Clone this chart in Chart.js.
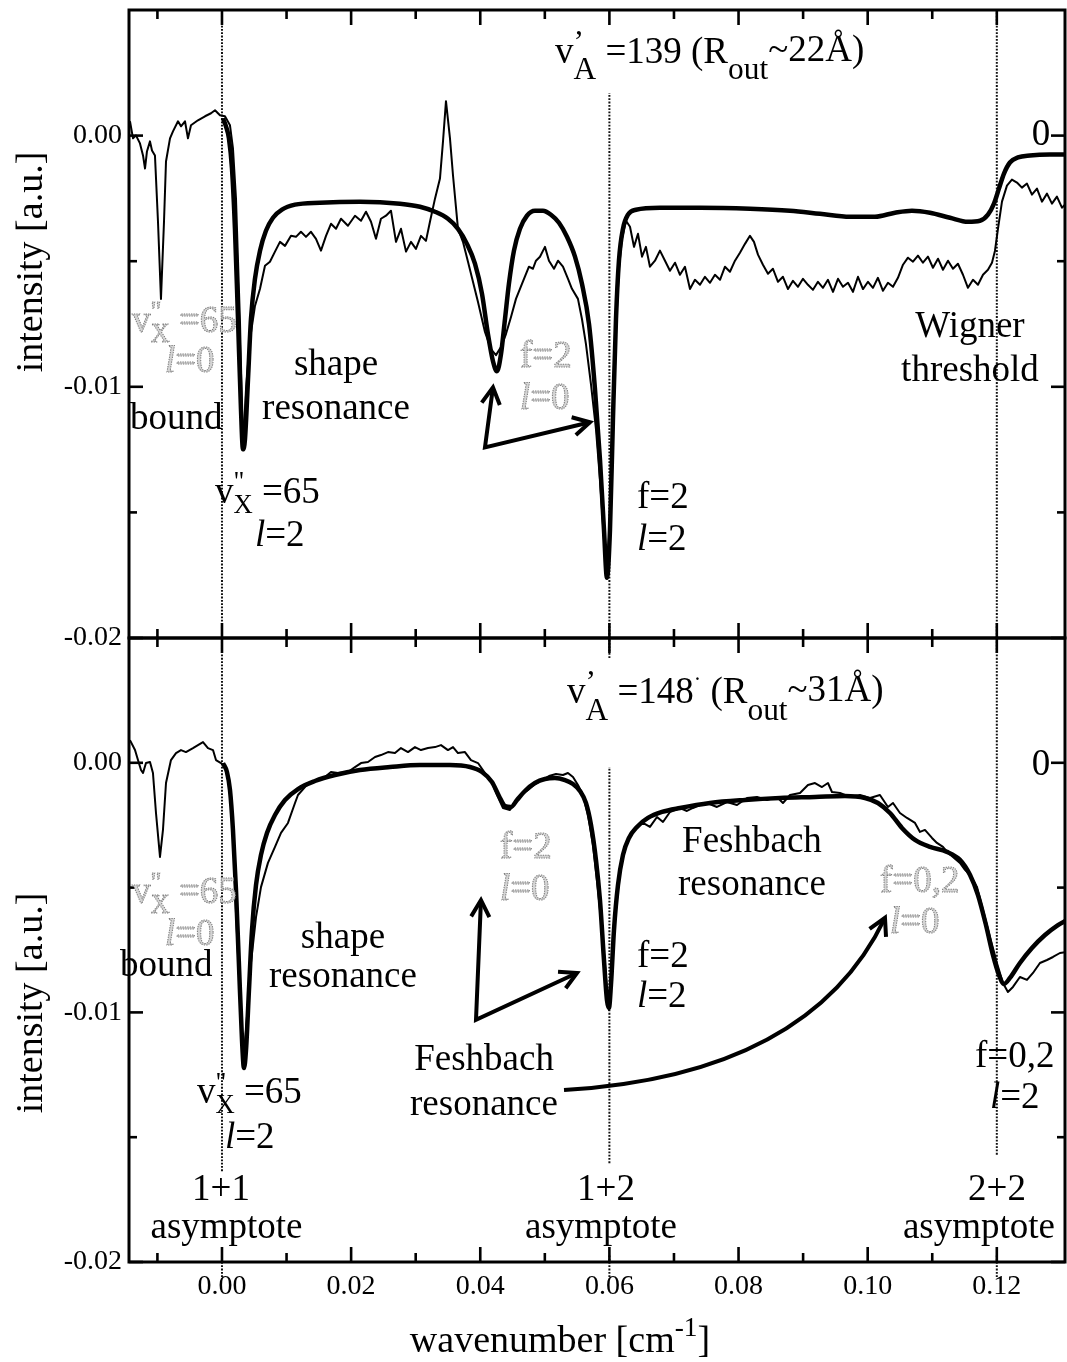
<!DOCTYPE html>
<html>
<head>
<meta charset="utf-8">
<script src="https://cdn.jsdelivr.net/npm/chart.js@4.4.1/dist/chart.umd.min.js"></script>
<style>
  html, body { margin: 0; padding: 0; background: #fff; }
  #wrap { position: relative; width: 1067px; height: 1362px; overflow: hidden; }
  #wrap canvas { position: absolute; left: 0; top: 0; }
</style>
</head>
<body>
<div id="wrap">
  <canvas id="upper" width="1067" height="1362"></canvas>
  <canvas id="lower" width="1067" height="1362"></canvas>
</div>
<script>
// ---- axes ----
const xRange = [-0.0144, 0.13056];          // wavenumber [cm^-1]
const yRange = [-0.02, 0.005];              // intensity [a.u.]
const xTickValues = [0, 0.02, 0.04, 0.06, 0.08, 0.10, 0.12];
const xMinorTicks = [-0.01, 0.01, 0.03, 0.05, 0.07, 0.09, 0.11];
const yTickValues = [-0.02, -0.01, 0];
const yMinorTicks = [-0.015, -0.005];
const asymptoteLabels = ['1+1', '1+2', '2+2'];

// ---- v'A = 139 : measured spectrum (thin) and model (thick), [wavenumber, intensity] ----
const upperMeasured = [[-0.01425,0.00057],[-0.01378,-0.00011],[-0.01332,0.00001],[-0.01270,-0.00031],[-0.01223,-0.00079],[-0.01192,-0.00131],[-0.01162,-0.00063],[-0.01115,-0.00023],[-0.01084,-0.00059],[-0.01038,-0.00079],[-0.00991,-0.00343],[-0.00945,-0.00650],[-0.00898,-0.00343],[-0.00867,-0.00103],[-0.00805,-0.00011],[-0.00759,0.00017],[-0.00681,0.00057],[-0.00635,0.00037],[-0.00573,0.00057],[-0.00527,-0.00011],[-0.00480,0.00041],[-0.00372,0.00061],[-0.00263,0.00077],[-0.00170,0.00089],[-0.00108,0.00101],[-0.00031,0.00081],[0.00046,0.00077],[0.00124,0.00041],[0.00170,-0.00051],[0.00217,-0.00251],[0.00279,-0.00742],[0.00325,-0.01249],[0.00372,-0.01010],[0.00434,-0.00810],[0.00511,-0.00678],[0.00589,-0.00610],[0.00666,-0.00518],[0.00743,-0.00502],[0.00821,-0.00462],[0.00898,-0.00423],[0.00976,-0.00439],[0.01069,-0.00399],[0.01146,-0.00403],[0.01223,-0.00383],[0.01301,-0.00403],[0.01378,-0.00383],[0.01456,-0.00411],[0.01533,-0.00458],[0.01611,-0.00399],[0.01688,-0.00351],[0.01766,-0.00371],[0.01843,-0.00331],[0.01951,-0.00359],[0.02060,-0.00319],[0.02153,-0.00339],[0.02230,-0.00303],[0.02308,-0.00343],[0.02385,-0.00411],[0.02462,-0.00331],[0.02540,-0.00319],[0.02617,-0.00299],[0.02695,-0.00423],[0.02772,-0.00371],[0.02850,-0.00462],[0.02927,-0.00423],[0.03004,-0.00451],[0.03082,-0.00399],[0.03159,-0.00419],[0.03221,-0.00343],[0.03299,-0.00251],[0.03376,-0.00171],[0.03423,-0.00023],[0.03469,0.00137],[0.03531,-0.00011],[0.03578,-0.00159],[0.03655,-0.00371],[0.03732,-0.00423],[0.03810,-0.00502],[0.03887,-0.00582],[0.03965,-0.00662],[0.04073,-0.00782],[0.04166,-0.00850],[0.04243,-0.00874],[0.04321,-0.00842],[0.04398,-0.00790],[0.04476,-0.00722],[0.04553,-0.00650],[0.04646,-0.00590],[0.04754,-0.00522],[0.04816,-0.00530],[0.04863,-0.00498],[0.04925,-0.00482],[0.05002,-0.00443],[0.05064,-0.00498],[0.05142,-0.00530],[0.05204,-0.00498],[0.05281,-0.00522],[0.05359,-0.00570],[0.05420,-0.00610],[0.05513,-0.00650],[0.05575,-0.00730],[0.05637,-0.00830],[0.05715,-0.00990],[0.05792,-0.01169],[0.05854,-0.01369],[0.05916,-0.01609],[0.05962,-0.01748],[0.06009,-0.01529],[0.06055,-0.01129],[0.06102,-0.00770],[0.06148,-0.00530],[0.06195,-0.00411],[0.06257,-0.00339],[0.06319,-0.00363],[0.06381,-0.00443],[0.06443,-0.00391],[0.06505,-0.00482],[0.06566,-0.00443],[0.06628,-0.00522],[0.06706,-0.00498],[0.06783,-0.00458],[0.06861,-0.00498],[0.06938,-0.00538],[0.07016,-0.00506],[0.07093,-0.00554],[0.07170,-0.00522],[0.07248,-0.00611],[0.07325,-0.00574],[0.07403,-0.00594],[0.07480,-0.00562],[0.07558,-0.00586],[0.07635,-0.00554],[0.07713,-0.00574],[0.07790,-0.00522],[0.07867,-0.00542],[0.07945,-0.00498],[0.08022,-0.00466],[0.08100,-0.00431],[0.08177,-0.00399],[0.08239,-0.00423],[0.08301,-0.00474],[0.08378,-0.00514],[0.08456,-0.00550],[0.08533,-0.00530],[0.08611,-0.00582],[0.08688,-0.00562],[0.08766,-0.00611],[0.08843,-0.00578],[0.08921,-0.00602],[0.08998,-0.00570],[0.09075,-0.00594],[0.09153,-0.00614],[0.09230,-0.00582],[0.09308,-0.00606],[0.09385,-0.00574],[0.09463,-0.00622],[0.09540,-0.00570],[0.09617,-0.00602],[0.09695,-0.00586],[0.09772,-0.00622],[0.09850,-0.00562],[0.09927,-0.00611],[0.10005,-0.00582],[0.10082,-0.00606],[0.10159,-0.00566],[0.10237,-0.00618],[0.10314,-0.00586],[0.10392,-0.00602],[0.10469,-0.00566],[0.10547,-0.00514],[0.10624,-0.00486],[0.10702,-0.00502],[0.10779,-0.00478],[0.10856,-0.00506],[0.10934,-0.00482],[0.11011,-0.00526],[0.11089,-0.00490],[0.11166,-0.00534],[0.11244,-0.00498],[0.11321,-0.00530],[0.11398,-0.00510],[0.11476,-0.00554],[0.11553,-0.00606],[0.11631,-0.00574],[0.11708,-0.00594],[0.11786,-0.00554],[0.11863,-0.00534],[0.11925,-0.00506],[0.11971,-0.00459],[0.12018,-0.00371],[0.12080,-0.00263],[0.12157,-0.00199],[0.12234,-0.00175],[0.12312,-0.00187],[0.12389,-0.00207],[0.12467,-0.00191],[0.12544,-0.00235],[0.12622,-0.00211],[0.12699,-0.00263],[0.12777,-0.00231],[0.12854,-0.00271],[0.12931,-0.00243],[0.13009,-0.00287],[0.13086,-0.00267]];

const upperModel = [[0.00015,0.00069],[0.00062,0.00037],[0.00108,-0.00011],[0.00155,-0.00131],[0.00201,-0.00371],[0.00248,-0.00730],[0.00294,-0.01089],[0.00325,-0.01249],[0.00356,-0.01209],[0.00403,-0.00970],[0.00449,-0.00730],[0.00511,-0.00570],[0.00589,-0.00458],[0.00681,-0.00379],[0.00790,-0.00327],[0.00929,-0.00295],[0.01131,-0.00275],[0.01518,-0.00267],[0.02137,-0.00263],[0.02757,-0.00271],[0.03066,-0.00283],[0.03299,-0.00303],[0.03500,-0.00331],[0.03655,-0.00371],[0.03794,-0.00431],[0.03918,-0.00510],[0.04027,-0.00630],[0.04119,-0.00790],[0.04197,-0.00898],[0.04258,-0.00938],[0.04321,-0.00870],[0.04383,-0.00730],[0.04444,-0.00590],[0.04522,-0.00458],[0.04615,-0.00371],[0.04723,-0.00319],[0.04847,-0.00299],[0.04971,-0.00299],[0.05095,-0.00315],[0.05219,-0.00347],[0.05343,-0.00403],[0.05467,-0.00482],[0.05575,-0.00590],[0.05684,-0.00750],[0.05777,-0.01010],[0.05854,-0.01289],[0.05916,-0.01569],[0.05962,-0.01760],[0.06009,-0.01569],[0.06055,-0.01129],[0.06102,-0.00730],[0.06148,-0.00498],[0.06210,-0.00371],[0.06288,-0.00315],[0.06412,-0.00295],[0.06783,-0.00287],[0.07403,-0.00287],[0.08177,-0.00291],[0.08797,-0.00299],[0.09261,-0.00311],[0.09726,-0.00323],[0.10113,-0.00323],[0.10423,-0.00307],[0.10686,-0.00299],[0.10965,-0.00307],[0.11275,-0.00327],[0.11553,-0.00343],[0.11739,-0.00339],[0.11863,-0.00315],[0.11956,-0.00271],[0.12033,-0.00211],[0.12111,-0.00151],[0.12203,-0.00107],[0.12327,-0.00087],[0.12513,-0.00079],[0.12823,-0.00075],[0.13086,-0.00075]];

// ---- v'A = 148 : measured spectrum (thin) and model (thick) ----
const lowerMeasured = [[-0.01425,0.00091],[-0.01347,0.00051],[-0.01301,0.00011],[-0.01254,-0.00029],[-0.01223,-0.00041],[-0.01177,-0.00001],[-0.01115,0.00003],[-0.01069,-0.00041],[-0.01022,-0.00201],[-0.00960,-0.00377],[-0.00914,-0.00269],[-0.00867,-0.00081],[-0.00790,0.00011],[-0.00712,0.00039],[-0.00635,0.00051],[-0.00558,0.00043],[-0.00449,0.00059],[-0.00372,0.00071],[-0.00294,0.00083],[-0.00217,0.00059],[-0.00139,0.00051],[-0.00093,0.00011],[-0.00015,-0.00001],[0.00062,-0.00021],[0.00124,-0.00109],[0.00170,-0.00269],[0.00217,-0.00602],[0.00279,-0.00938],[0.00325,-0.01223],[0.00372,-0.01070],[0.00449,-0.00802],[0.00527,-0.00618],[0.00604,-0.00498],[0.00712,-0.00401],[0.00821,-0.00337],[0.00914,-0.00281],[0.01022,-0.00241],[0.01131,-0.00161],[0.01177,-0.00129],[0.01285,-0.00097],[0.01378,-0.00077],[0.01487,-0.00069],[0.01595,-0.00057],[0.01688,-0.00037],[0.01796,-0.00041],[0.01951,-0.00037],[0.02060,-0.00017],[0.02153,-0.00001],[0.02261,0.00003],[0.02370,0.00023],[0.02462,0.00031],[0.02571,0.00043],[0.02679,0.00039],[0.02772,0.00059],[0.02881,0.00043],[0.02989,0.00063],[0.03082,0.00051],[0.03190,0.00059],[0.03299,0.00063],[0.03392,0.00071],[0.03500,0.00051],[0.03578,0.00063],[0.03655,0.00039],[0.03763,0.00043],[0.03856,0.00011],[0.03965,-0.00001],[0.04073,-0.00041],[0.04166,-0.00069],[0.04274,-0.00137],[0.04352,-0.00181],[0.04460,-0.00189],[0.04553,-0.00157],[0.04631,-0.00129],[0.04739,-0.00109],[0.04847,-0.00085],[0.04956,-0.00069],[0.05064,-0.00053],[0.05173,-0.00045],[0.05281,-0.00049],[0.05358,-0.00041],[0.05436,-0.00057],[0.05513,-0.00089],[0.05591,-0.00129],[0.05668,-0.00209],[0.05745,-0.00329],[0.05823,-0.00510],[0.05900,-0.00710],[0.05962,-0.00910],[0.05993,-0.00990],[0.06040,-0.00830],[0.06086,-0.00630],[0.06148,-0.00470],[0.06210,-0.00369],[0.06272,-0.00321],[0.06350,-0.00277],[0.06427,-0.00257],[0.06520,-0.00241],[0.06628,-0.00257],[0.06737,-0.00217],[0.06830,-0.00237],[0.06938,-0.00197],[0.07093,-0.00181],[0.07201,-0.00193],[0.07294,-0.00181],[0.07403,-0.00169],[0.07511,-0.00161],[0.07666,-0.00177],[0.07821,-0.00157],[0.07976,-0.00169],[0.08131,-0.00141],[0.08286,-0.00137],[0.08440,-0.00149],[0.08595,-0.00137],[0.08688,-0.00161],[0.08797,-0.00129],[0.08952,-0.00121],[0.09075,-0.00089],[0.09184,-0.00081],[0.09292,-0.00097],[0.09385,-0.00081],[0.09447,-0.00117],[0.09571,-0.00121],[0.09726,-0.00137],[0.09881,-0.00129],[0.10036,-0.00141],[0.10190,-0.00129],[0.10314,-0.00177],[0.10392,-0.00161],[0.10500,-0.00201],[0.10609,-0.00221],[0.10733,-0.00241],[0.10810,-0.00277],[0.10887,-0.00269],[0.10996,-0.00301],[0.11073,-0.00321],[0.11166,-0.00337],[0.11244,-0.00361],[0.11321,-0.00377],[0.11429,-0.00401],[0.11507,-0.00429],[0.11584,-0.00449],[0.11693,-0.00498],[0.11786,-0.00590],[0.11894,-0.00698],[0.12002,-0.00802],[0.12095,-0.00882],[0.12172,-0.00918],[0.12250,-0.00898],[0.12358,-0.00858],[0.12467,-0.00870],[0.12560,-0.00842],[0.12668,-0.00802],[0.12777,-0.00790],[0.12870,-0.00778],[0.12978,-0.00762],[0.13086,-0.00758]];

const lowerModel = [[0.00015,-0.00001],[0.00077,-0.00037],[0.00124,-0.00109],[0.00170,-0.00269],[0.00217,-0.00510],[0.00263,-0.00810],[0.00310,-0.01110],[0.00341,-0.01223],[0.00372,-0.01151],[0.00418,-0.00910],[0.00465,-0.00670],[0.00527,-0.00490],[0.00604,-0.00369],[0.00697,-0.00281],[0.00821,-0.00209],[0.00976,-0.00149],[0.01177,-0.00105],[0.01440,-0.00073],[0.01750,-0.00049],[0.02137,-0.00029],[0.02602,-0.00017],[0.03066,-0.00009],[0.03531,-0.00009],[0.03841,-0.00017],[0.04027,-0.00037],[0.04181,-0.00077],[0.04290,-0.00133],[0.04383,-0.00173],[0.04476,-0.00177],[0.04569,-0.00149],[0.04692,-0.00113],[0.04847,-0.00081],[0.05002,-0.00065],[0.05157,-0.00061],[0.05312,-0.00069],[0.05436,-0.00085],[0.05544,-0.00113],[0.05637,-0.00161],[0.05715,-0.00249],[0.05792,-0.00389],[0.05854,-0.00550],[0.05916,-0.00790],[0.05962,-0.00950],[0.05993,-0.00982],[0.06024,-0.00890],[0.06071,-0.00670],[0.06133,-0.00490],[0.06210,-0.00369],[0.06303,-0.00301],[0.06427,-0.00257],[0.06597,-0.00221],[0.06814,-0.00197],[0.07093,-0.00181],[0.07558,-0.00161],[0.08100,-0.00149],[0.08642,-0.00141],[0.09184,-0.00137],[0.09648,-0.00133],[0.09958,-0.00141],[0.10159,-0.00161],[0.10345,-0.00201],[0.10531,-0.00261],[0.10733,-0.00309],[0.10965,-0.00337],[0.11228,-0.00357],[0.11429,-0.00389],[0.11584,-0.00449],[0.11708,-0.00530],[0.11832,-0.00650],[0.11940,-0.00770],[0.12033,-0.00850],[0.12111,-0.00886],[0.12203,-0.00862],[0.12358,-0.00802],[0.12544,-0.00742],[0.12746,-0.00690],[0.12947,-0.00650],[0.13086,-0.00630]];

// ---- text helpers ----
const SERIF = '"Liberation Serif", "Times New Roman", Times, serif';
const TXT = 37;

// runs: pieces of a label; s = size factor, dy = baseline shift (em), it = italic,
// back = start at the same x as the previous piece (stacked sub/superscript)
const VX65 = [{t: 'v'}, {t: '"', s: 0.72, dy: -0.33}, {t: 'X', s: 0.72, dy: 0.28, back: true}, {t: ' =65'}];
const L0 = [{t: 'l', it: true}, {t: '=0'}];
const L2 = [{t: 'l', it: true}, {t: '=2'}];
const titleUpper = [{t: 'v'}, {t: '\u2019', s: 0.85, dy: -0.3}, {t: 'A', s: 0.85, dy: 0.45, back: true},
  {t: ' =139 (R'}, {t: 'out', s: 0.85, dy: 0.45}, {t: '~22\u00C5)', dy: -0.06}];
const titleLower = [{t: 'v'}, {t: '\u2019', s: 0.85, dy: -0.3}, {t: 'A', s: 0.85, dy: 0.45, back: true},
  {t: ' =148'}, {t: '\u00B7', s: 0.6, dy: -0.45}, {t: ' (R'}, {t: 'out', s: 0.85, dy: 0.45}, {t: '~31\u00C5)', dy: -0.06}];
const T = s => [{t: s}];

const upperNotes = [
  {x: 0.05157, y: 0.00290, runs: titleUpper},
  {x: 0.12684, y: -0.00037, runs: T('0'), align: 'center'},
  {x: -0.01394, y: -0.00782, runs: VX65, grey: true},
  {x: -0.00883, y: -0.00942, runs: L0, grey: true},
  {x: -0.01425, y: -0.01169, runs: T('bound')},
  {x: 0.01766, y: -0.00954, runs: T('shape'), align: 'center'},
  {x: 0.01766, y: -0.01129, runs: T('resonance'), align: 'center'},
  {x: -0.00108, y: -0.01461, runs: VX65},
  {x: 0.00511, y: -0.01632, runs: L2},
  {x: 0.04615, y: -0.00922, runs: T('f=2'), grey: true},
  {x: 0.04615, y: -0.01089, runs: L0, grey: true},
  {x: 0.06427, y: -0.01482, runs: T('f=2')},
  {x: 0.06427, y: -0.01650, runs: L2},
  {x: 0.11584, y: -0.00802, runs: T('Wigner'), align: 'center'},
  {x: 0.11584, y: -0.00978, runs: T('threshold'), align: 'center'}
];

const lowerNotes = [
  {x: 0.05343, y: 0.00240, runs: titleLower},
  {x: 0.12684, y: -0.00049, runs: T('0'), align: 'center'},
  {x: -0.01394, y: -0.00562, runs: VX65, grey: true},
  {x: -0.00883, y: -0.00730, runs: L0, grey: true},
  {x: -0.01580, y: -0.00854, runs: T('bound')},
  {x: 0.01874, y: -0.00742, runs: T('shape'), align: 'center'},
  {x: 0.01874, y: -0.00898, runs: T('resonance'), align: 'center'},
  {x: 0.04305, y: -0.00382, runs: T('f=2'), grey: true},
  {x: 0.04305, y: -0.00550, runs: L0, grey: true},
  {x: 0.06427, y: -0.00817, runs: T('f=2')},
  {x: 0.06427, y: -0.00977, runs: L2},
  {x: 0.08208, y: -0.00357, runs: T('Feshbach'), align: 'center'},
  {x: 0.08208, y: -0.00529, runs: T('resonance'), align: 'center'},
  {x: 0.10190, y: -0.00517, runs: T('f=0,2'), grey: true},
  {x: 0.10345, y: -0.00682, runs: L0, grey: true},
  {x: 0.04058, y: -0.01231, runs: T('Feshbach'), align: 'center'},
  {x: 0.04058, y: -0.01410, runs: T('resonance'), align: 'center'},
  {x: -0.00387, y: -0.01363, runs: VX65},
  {x: 0.00046, y: -0.01543, runs: L2},
  {x: 0.11662, y: -0.01220, runs: T('f=0,2')},
  {x: 0.11894, y: -0.01385, runs: L2},
  {x: -0.00015, y: -0.01752, runs: T(asymptoteLabels[0]), align: 'center'},
  {x: 0.00070, y: -0.01904, runs: T('asymptote'), align: 'center'},
  {x: 0.05947, y: -0.01752, runs: T(asymptoteLabels[1]), align: 'center'},
  {x: 0.05870, y: -0.01904, runs: T('asymptote'), align: 'center'},
  {x: 0.12002, y: -0.01752, runs: T(asymptoteLabels[2]), align: 'center'},
  {x: 0.11724, y: -0.01904, runs: T('asymptote'), align: 'center'}
];

// arrows: polyline with heads at both ends, or a quadratic curve with one head
const upperArrows = [{poly: [[0.04197, -0.01002], [0.04073, -0.01241], [0.05699, -0.01141]]}];
const lowerArrows = [
  {poly: [[0.04011, -0.00550], [0.03934, -0.01030], [0.05498, -0.00842]]},
  {curve: [[0.05297, -0.01311], [0.09106, -0.01251], [0.10268, -0.00621]]}
];

// dotted asymptote markers: [wavenumber, from, to]
const upperGuides = [[0, -0.02, 0.005], [0.06, -0.02, 0.0017], [0.12, -0.02, 0.005]];
const lowerGuides = [[0, -0.01636, 0.005], [0.06, -0.01604, -0.00017], [0.06, 0.0042, 0.005], [0.12, -0.0157, 0.005],
  [0, -0.0206, -0.0197], [0.06, -0.0206, -0.0197], [0.12, -0.0206, -0.0197]];

function drawRuns(ctx, x, y, runs, size, align, grey) {
  let cursor = 0, prevStart = 0;
  const placed = [];
  for (const r of runs) {
    const sz = size * (r.s || 1);
    const font = (r.it ? 'italic ' : '') + sz + 'px ' + SERIF;
    ctx.font = font;
    const w = ctx.measureText(r.t).width;
    const start = r.back ? prevStart : cursor;
    placed.push({r, font, start});
    prevStart = start;
    cursor = Math.max(cursor, start + w);
  }
  const x0 = align === 'center' ? x - cursor / 2 : x;
  ctx.textAlign = 'left';
  ctx.textBaseline = 'alphabetic';
  for (const p of placed) {
    ctx.font = p.font;
    const px = x0 + p.start, py = y + (p.r.dy || 0) * size;
    if (grey) {
      ctx.fillStyle = '#d4d4d4';
      ctx.fillText(p.r.t, px, py);
      ctx.strokeStyle = '#7c7c7c';
      ctx.lineWidth = 1;
      ctx.setLineDash([1.3, 1.1]);
      ctx.strokeText(p.r.t, px, py);
      ctx.setLineDash([]);
    } else {
      ctx.fillStyle = '#000';
      ctx.fillText(p.r.t, px, py);
    }
  }
}

function arrowHead(ctx, tx, ty, fx, fy) {
  const a = Math.atan2(ty - fy, tx - fx), len = 19, spread = 0.5;
  ctx.beginPath();
  ctx.moveTo(tx - len * Math.cos(a - spread), ty - len * Math.sin(a - spread));
  ctx.lineTo(tx, ty);
  ctx.lineTo(tx - len * Math.cos(a + spread), ty - len * Math.sin(a + spread));
  ctx.stroke();
}

function decorPlugin(cfg) {
  return {
    id: 'panelDecor',
    beforeDatasetsDraw(chart) {
      const {ctx, scales: {x, y}} = chart;
      ctx.save();
      ctx.strokeStyle = '#111';
      ctx.lineWidth = 2;
      ctx.setLineDash([1.8, 1.5]);
      cfg.guides.forEach(([gx, y0, y1]) => {
        const px = x.getPixelForValue(gx);
        ctx.beginPath();
        ctx.moveTo(px, y.getPixelForValue(y0));
        ctx.lineTo(px, y.getPixelForValue(y1));
        ctx.stroke();
      });
      ctx.restore();
    },
    afterDatasetsDraw(chart) {
      const {ctx, chartArea: a, scales: {x, y}} = chart;
      ctx.save();
      ctx.setLineDash([]);
      ctx.strokeStyle = '#000';
      ctx.lineCap = 'butt';
      // frame
      ctx.lineWidth = 3;
      ctx.strokeRect(a.left, a.top, a.right - a.left, a.bottom - a.top);
      // inward tick marks on all four sides
      const seg = (x1, y1, x2, y2) => { ctx.beginPath(); ctx.moveTo(x1, y1); ctx.lineTo(x2, y2); ctx.stroke(); };
      ctx.lineWidth = 2.6;
      const xt = (v, len) => { const p = x.getPixelForValue(v); seg(p, a.top, p, a.top + len); seg(p, a.bottom, p, a.bottom - len); };
      const yt = (v, len) => { const p = y.getPixelForValue(v); seg(a.left, p, a.left + len, p); seg(a.right, p, a.right - len, p); };
      xTickValues.forEach(v => xt(v, 15));
      xMinorTicks.forEach(v => xt(v, 9));
      yTickValues.forEach(v => yt(v, 14));
      yMinorTicks.forEach(v => yt(v, 8));
      // annotations
      cfg.notes.forEach(n => drawRuns(ctx, x.getPixelForValue(n.x), y.getPixelForValue(n.y), n.runs, TXT, n.align, n.grey));
      // arrows
      ctx.lineWidth = 4;
      ctx.lineJoin = 'miter';
      ctx.strokeStyle = '#000';
      cfg.arrows.forEach(ar => {
        if (ar.poly) {
          const pts = ar.poly.map(([u, v]) => [x.getPixelForValue(u), y.getPixelForValue(v)]);
          ctx.beginPath();
          pts.forEach(([px, py], i) => i ? ctx.lineTo(px, py) : ctx.moveTo(px, py));
          ctx.stroke();
          arrowHead(ctx, pts[0][0], pts[0][1], pts[1][0], pts[1][1]);
          const n = pts.length;
          arrowHead(ctx, pts[n - 1][0], pts[n - 1][1], pts[n - 2][0], pts[n - 2][1]);
        } else {
          const [p0, c, p1] = ar.curve.map(([u, v]) => [x.getPixelForValue(u), y.getPixelForValue(v)]);
          ctx.beginPath();
          ctx.moveTo(p0[0], p0[1]);
          ctx.quadraticCurveTo(c[0], c[1], p1[0], p1[1]);
          ctx.stroke();
          arrowHead(ctx, p1[0], p1[1], c[0], c[1]);
        }
      });
      // y-axis title
      ctx.save();
      ctx.translate(32, cfg.yTitleCenter);
      ctx.rotate(-Math.PI / 2);
      ctx.font = '38px ' + SERIF;
      ctx.fillStyle = '#000';
      ctx.textAlign = 'center';
      ctx.textBaseline = 'middle';
      ctx.fillText('intensity [a.u.]', 0, 0);
      ctx.restore();
      // x-axis title
      if (cfg.xTitle) {
        drawRuns(ctx, (a.left + a.right) / 2 - 37, 1352,
          [{t: 'wavenumber [cm'}, {t: '-1', s: 0.72, dy: -0.42}, {t: ']'}], 38, 'center', false);
      }
      ctx.restore();
    }
  };
}

const tickFont = {family: SERIF, size: 28};

function makePanel(id, measured, model, frame, cfg) {
  const showX = !!cfg.xTitle;
  return new Chart(document.getElementById(id), {
    type: 'line',
    data: {
      datasets: [
        {data: measured.map(([x, y]) => ({x, y})), borderColor: '#000', borderWidth: 2,
          pointRadius: 0, tension: 0, borderJoinStyle: 'round', fill: false},
        {data: model.map(([x, y]) => ({x, y})), borderColor: '#000', borderWidth: 4.5,
          pointRadius: 0, cubicInterpolationMode: 'monotone', borderJoinStyle: 'round', fill: false}
      ]
    },
    options: {
      responsive: false,
      animation: false,
      devicePixelRatio: 1,
      events: [],
      layout: {
        autoPadding: false,
        padding: {left: 0, right: 1067 - frame.right, top: frame.top, bottom: showX ? 0 : 1362 - frame.bottom}
      },
      plugins: {legend: {display: false}, tooltip: {enabled: false}},
      scales: {
        x: {
          type: 'linear', min: xRange[0], max: xRange[1], display: showX,
          afterBuildTicks: s => { s.ticks = xTickValues.map(v => ({value: v})); },
          afterFit: s => {
            if (showX) { s.height = 1362 - frame.bottom; } else { s.height = 0; }
            s.paddingLeft = 0; s.paddingRight = 0;
          },
          ticks: {callback: v => Number(v).toFixed(2), font: tickFont, color: '#000', padding: 8,
            maxRotation: 0, minRotation: 0, autoSkip: false},
          grid: {display: false, drawTicks: false},
          border: {display: false}
        },
        y: {
          type: 'linear', min: yRange[0], max: yRange[1],
          afterBuildTicks: s => { s.ticks = yTickValues.map(v => ({value: v})); },
          afterFit: s => { s.width = frame.left; s.paddingTop = 0; s.paddingBottom = 0; },
          ticks: {callback: v => Number(v).toFixed(2), font: tickFont, color: '#000', padding: 7, autoSkip: false},
          grid: {display: false, drawTicks: false},
          border: {display: false}
        }
      }
    },
    plugins: [decorPlugin(cfg)]
  });
}

makePanel('upper', upperMeasured, upperModel, {left: 129, right: 1065, top: 10, bottom: 638},
  {notes: upperNotes, arrows: upperArrows, guides: upperGuides, yTitleCenter: 262});
makePanel('lower', lowerMeasured, lowerModel, {left: 129, right: 1065, top: 638, bottom: 1262},
  {notes: lowerNotes, arrows: lowerArrows, guides: lowerGuides, yTitleCenter: 1003, xTitle: true});
</script>
</body>
</html>
